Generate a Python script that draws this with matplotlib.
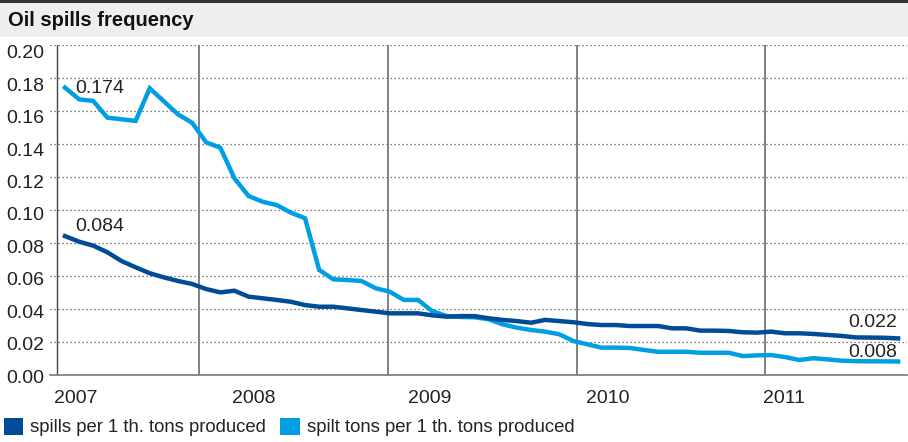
import matplotlib
matplotlib.use("Agg")
import matplotlib.pyplot as plt
from matplotlib.patches import Patch, Rectangle
import matplotlib.transforms as mtransforms

plt.rcParams['font.family'] = ['Liberation Sans', 'DejaVu Sans']

# monthly readings, Jan 2007 onwards
spills = [0.084, 0.0806, 0.0782, 0.0742, 0.0689, 0.0651, 0.0615, 0.0590, 0.0568, 0.0550,
          0.0519, 0.0499, 0.0509, 0.0473, 0.0463, 0.0453, 0.0442, 0.0422, 0.0412, 0.0412,
          0.0402, 0.0392, 0.0382, 0.0372, 0.0372, 0.0372, 0.0360, 0.0352, 0.0355, 0.0355,
          0.0342, 0.0332, 0.0325, 0.0315, 0.0332, 0.0325, 0.0318, 0.0307, 0.0301, 0.0301,
          0.0295, 0.0295, 0.0295, 0.0281, 0.0281, 0.0267, 0.0267, 0.0265, 0.0257, 0.0255,
          0.0261, 0.0251, 0.0251, 0.0247, 0.0241, 0.0235, 0.0226, 0.0225, 0.0224, 0.022]
spilt_tons = [0.174, 0.1669, 0.1659, 0.1558, 0.1548, 0.1538, 0.1736, 0.1657, 0.1578, 0.1527,
              0.1408, 0.1376, 0.1190, 0.1083, 0.1048, 0.1028, 0.0982, 0.0948, 0.0635, 0.0578,
              0.0574, 0.0568, 0.0524, 0.0503, 0.0453, 0.0453, 0.0386, 0.0356, 0.0350, 0.0348,
              0.0336, 0.0305, 0.0285, 0.0271, 0.0261, 0.0245, 0.0204, 0.0184, 0.0164, 0.0164,
              0.0162, 0.0150, 0.0139, 0.0139, 0.0139, 0.0133, 0.0133, 0.0133, 0.0113, 0.0117,
              0.0119, 0.0107, 0.0089, 0.0100, 0.0093, 0.0085, 0.0082, 0.0081, 0.0081, 0.008]
months = list(range(len(spills)))

years = ["2007", "2008", "2009", "2010", "2011"]
year_label_pos = [0.78, 13.39, 25.85, 38.46, 50.92]
year_lines = [9.49, 22.88, 36.26, 49.58]
yticks = [0.00, 0.02, 0.04, 0.06, 0.08, 0.10, 0.12, 0.14, 0.16, 0.18, 0.20]

dark = '#004c97'
light = '#009fe3'
txt = '#222222'

W, H = 908, 442
fig = plt.figure(figsize=(W / 100, H / 100), dpi=100)

# header band
fig.patches.append(Rectangle((0, 1 - 37 / H), 1, 34 / H, transform=fig.transFigure,
                             facecolor='#eeeeee', edgecolor='none'))
fig.patches.append(Rectangle((0, 1 - 3 / H), 1, 3 / H, transform=fig.transFigure,
                             facecolor='#333333', edgecolor='none'))
fig.text(8 / W, 1 - 20 / H, "Oil spills frequency", fontsize=14.5, fontweight='bold',
         color='#111111', va='center', ha='left')

ax = fig.add_axes([50 / W, (H - 374.7) / H, 857 / W, 330 / H])
ax.set_xlim(-1.062, 59.63)
ax.set_ylim(0, 0.2)

for s in ['top', 'right', 'left']:
    ax.spines[s].set_visible(False)
ax.spines['bottom'].set_color('#777777')
ax.spines['bottom'].set_linewidth(1.2)

ax.set_yticks(yticks)
ax.set_yticklabels([f"{v:.2f}" for v in yticks])
ax.tick_params(axis='y', length=0, pad=4, labelsize=14, labelcolor=txt)
# labels sit a little below their gridlines, more so towards the top
for k, lab in enumerate(ax.get_yticklabels()):
    shift = mtransforms.ScaledTranslation(0, -(1.6 + 0.54 * k) / 100, fig.dpi_scale_trans)
    lab.set_transform(lab.get_transform() + shift)
ax.grid(axis='y', color='#555555', linestyle=(0, (1, 2.2)), linewidth=0.9)
ax.set_axisbelow(True)

ax.set_xticks(year_label_pos)
ax.set_xticklabels(years)
ax.tick_params(axis='x', length=0, pad=11, labelsize=14, labelcolor=txt)

ax.axvline(-0.567, color='#444444', linewidth=1.0, zorder=1)
for x in year_lines:
    ax.axvline(x, color='#777777', linewidth=1.3, zorder=1)

ax.plot(months, spilt_tons, color=light, linewidth=3.2, solid_joinstyle='miter', zorder=3)
ax.plot(months, spills, color=dark, linewidth=3.2, solid_joinstyle='miter', zorder=4)

ax.annotate("0.174", (months[0], spilt_tons[0]), xytext=(10, -1), textcoords='offset pixels',
            fontsize=14, color=txt, ha='left', va='center')
ax.annotate("0.084", (months[0], spills[0]), xytext=(10, 10), textcoords='offset pixels',
            fontsize=14, color=txt, ha='left', va='center')
ax.annotate("0.022", (months[-1], spills[-1]), xytext=(-1, 16), textcoords='offset pixels',
            fontsize=14, color=txt, ha='right', va='center')
ax.annotate("0.008", (months[-1], spilt_tons[-1]), xytext=(-1, 9), textcoords='offset pixels',
            fontsize=14, color=txt, ha='right', va='center')

handles = [Patch(facecolor=dark, edgecolor='none', label="spills per 1 th. tons produced"),
           Patch(facecolor=light, edgecolor='none', label="spilt tons per 1 th. tons produced")]
fig.legend(handles=handles, loc='center left', bbox_to_anchor=(0, 1 - 427 / H), ncol=2,
           frameon=False, fontsize=13.3, handlelength=1.05, handleheight=1.05, handletextpad=0.4,
           columnspacing=0.75, borderaxespad=0, borderpad=0.2, labelcolor=txt)

fig.savefig("out.png", dpi=100)
